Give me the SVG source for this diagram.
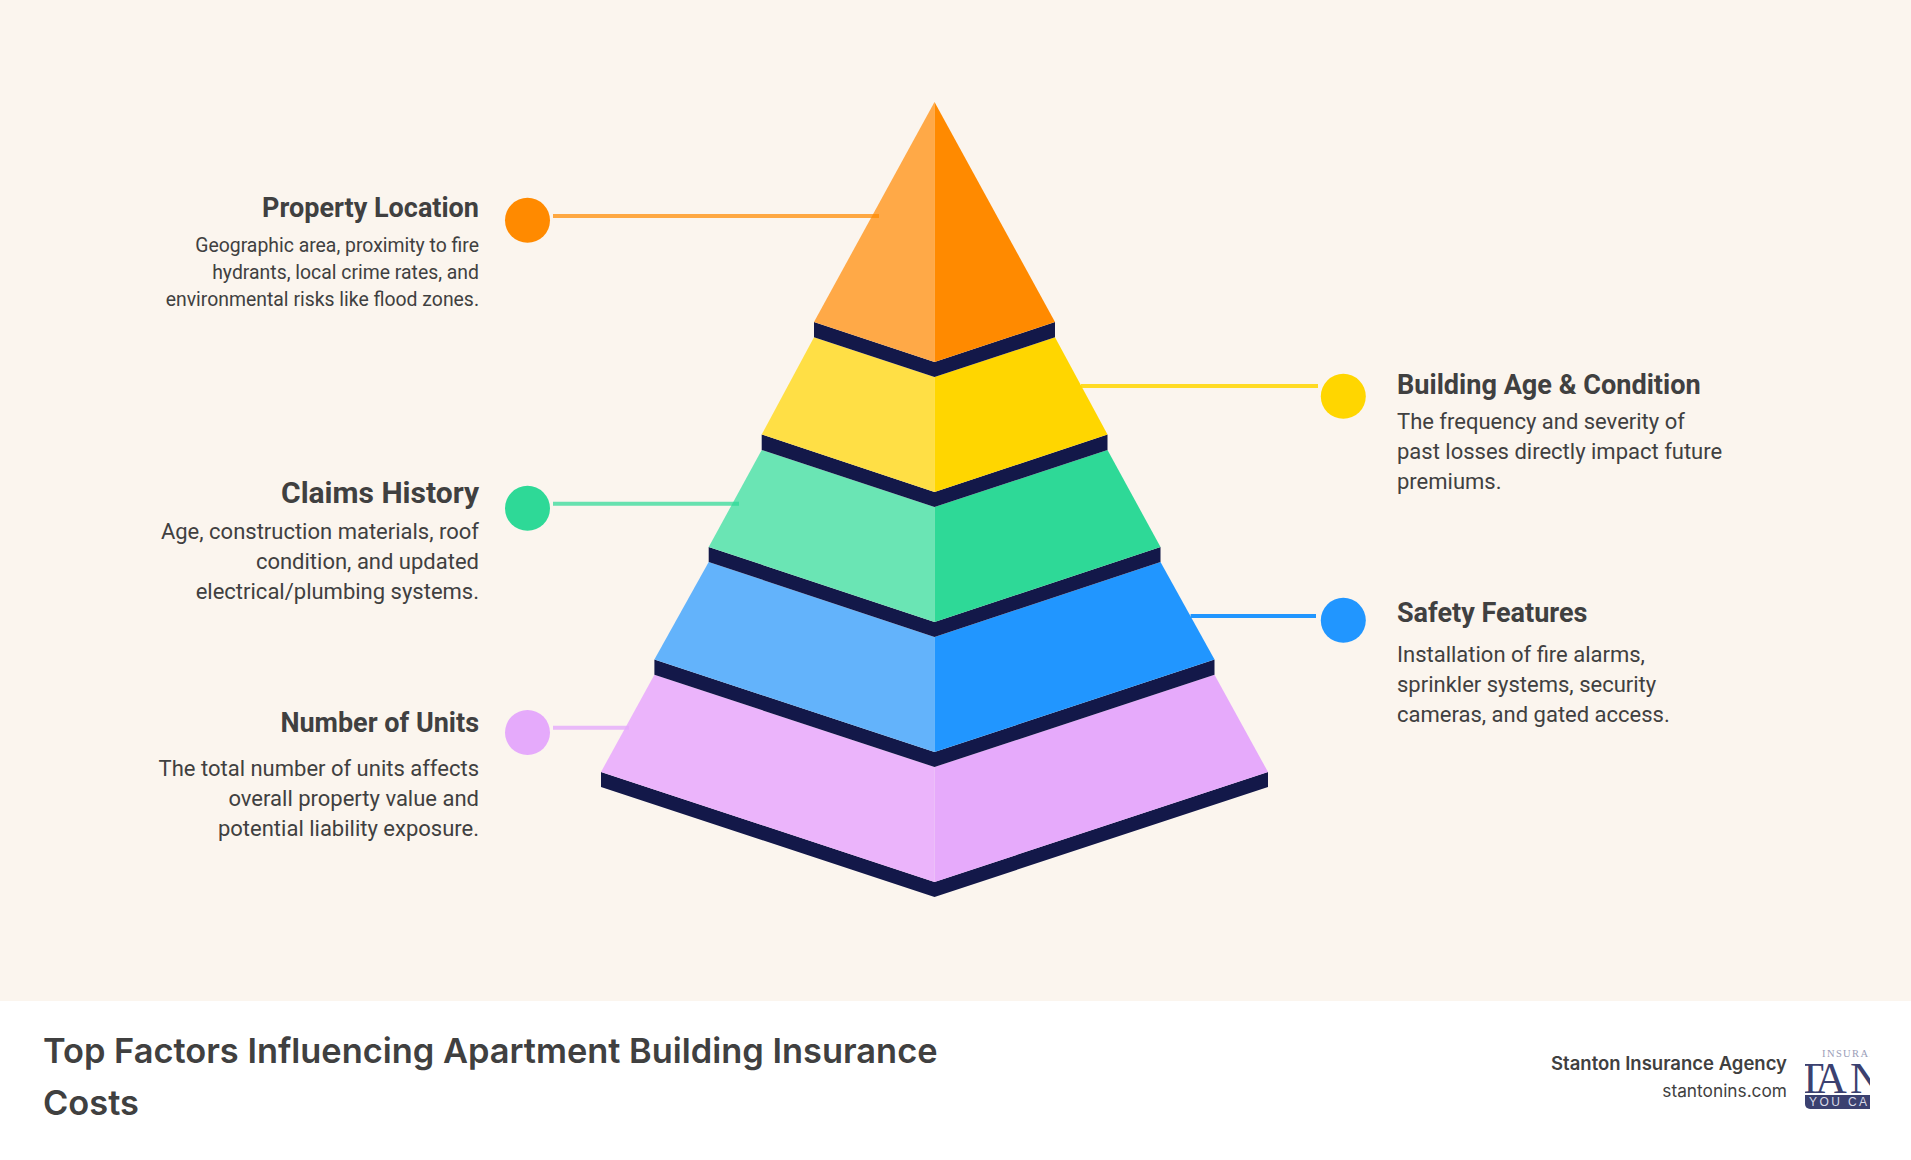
<svg xmlns="http://www.w3.org/2000/svg" width="1911" height="1160" viewBox="0 0 1911 1160">
<style>
.t{font-family:Roboto,sans-serif;font-weight:700;fill:#404040}
.d{font-family:Roboto,sans-serif;font-weight:400;fill:#404040}
.e{text-anchor:end}
.dk{fill:#131849}
.ln{stroke-width:4;fill:none}
</style>
<defs><clipPath id="lc"><path d="M1805 1050h65v59h-65z"/></clipPath></defs>
<rect width="1911" height="1001" fill="#fbf5ee"/>
<rect y="1001" width="1911" height="159" fill="#fff"/>
<g id="pyramid">
<g id="tier-5">
<path class="dk" d="M601 772V787L934.5 897L1268 787V772L934.5 882Z"/>
<path fill="#ebb4fb" d="M654.4 674.7L601 772L934.5 882V767Z"/>
<path fill="#e6aafb" d="M1214.5 674.7L1268 772L934.5 882V767Z"/>
</g>
<g id="tier-4">
<path class="dk" d="M654.4 659.5V674.7L934.5 767L1214.5 674.7V659.5L934.5 752Z"/>
<path fill="#63b3fb" d="M708.7 562L654.4 659.5L934.5 752V637Z"/>
<path fill="#2196ff" d="M1160.5 562L1214.5 659.5L934.5 752V637Z"/>
</g>
<g id="tier-3">
<path class="dk" d="M708.7 547V562L934.5 637L1160.5 562V547L934.5 622Z"/>
<path fill="#6ae5b4" d="M761.7 450L708.7 547L934.5 622V507Z"/>
<path fill="#2ed997" d="M1107.5 450L1160.5 547L934.5 622V507Z"/>
</g>
<g id="tier-2">
<path class="dk" d="M761.7 434.5V450L934.5 507L1107.5 450V434.5L934.5 492Z"/>
<path fill="#ffdf45" d="M814 337.3L761.7 434.5L934.5 492V377Z"/>
<path fill="#ffd600" d="M1055 337.3L1107.5 434.5L934.5 492V377Z"/>
</g>
<g id="tier-1">
<path class="dk" d="M814 322V337.3L934.5 377L1055 337.3V322L934.5 362Z"/>
<path fill="#ffa947" d="M934.5 102L814 322L934.5 362Z"/>
<path fill="#ff8a00" d="M934.5 102L1055 322L934.5 362Z"/>
</g>
</g>
<g id="connectors">
<path class="ln" stroke="#ff8a00" stroke-opacity=".72" d="M553 216H879"/>
<path class="ln" stroke="#ffd600" stroke-opacity=".85" d="M1081 386H1318"/>
<path class="ln" stroke="#2ed997" stroke-opacity=".72" d="M553 503.7H739"/>
<path class="ln" stroke="#2196ff" d="M1190.6 616H1316"/>
<path class="ln" stroke="#e5aafb" stroke-opacity=".8" d="M553 727.7H629"/>
</g>
<g id="n-location">
<circle cx="527.5" cy="220.3" r="22.5" fill="#ff8a00"/>
<text class="t e" x="479" y="216.5" font-size="27">Property Location</text>
<text class="d e" x="479" y="252" font-size="19.4">Geographic area, proximity to fire</text>
<text class="d e" x="479" y="279" font-size="19.4">hydrants, local crime rates, and</text>
<text class="d e" x="479" y="306" font-size="19.4">environmental risks like flood zones.</text>
</g>
<g id="n-claims">
<circle cx="527.5" cy="508.3" r="22.5" fill="#2ed997"/>
<text class="t e" x="479" y="503" font-size="30">Claims History</text>
<text class="d e" x="479" y="539" font-size="22">Age, construction materials, roof</text>
<text class="d e" x="479" y="569" font-size="22">condition, and updated</text>
<text class="d e" x="479" y="599" font-size="22">electrical/plumbing systems.</text>
</g>
<g id="n-units">
<circle cx="527.5" cy="732.5" r="22.5" fill="#e5aafb"/>
<text class="t e" x="479" y="732" font-size="27">Number of Units</text>
<text class="d e" x="479" y="776" font-size="22">The total number of units affects</text>
<text class="d e" x="479" y="806" font-size="22">overall property value and</text>
<text class="d e" x="479" y="836" font-size="22">potential liability exposure.</text>
</g>
<g id="n-age">
<circle cx="1343.3" cy="396.3" r="22.5" fill="#ffd600"/>
<text class="t" x="1397" y="394" font-size="27.1">Building Age &amp; Condition</text>
<text class="d" x="1397" y="429" font-size="22">The frequency and severity of</text>
<text class="d" x="1397" y="459" font-size="22">past losses directly impact future</text>
<text class="d" x="1397" y="489" font-size="22">premiums.</text>
</g>
<g id="n-safety">
<circle cx="1343.3" cy="620.3" r="22.5" fill="#2196ff"/>
<text class="t" x="1397" y="622" font-size="27">Safety Features</text>
<text class="d" x="1397" y="662" font-size="22">Installation of fire alarms,</text>
<text class="d" x="1397" y="692" font-size="22">sprinkler systems, security</text>
<text class="d" x="1397" y="722" font-size="22">cameras, and gated access.</text>
</g>
<g id="footer">
<text x="43" y="1063" font-family="Inter,sans-serif" font-weight="600" font-size="34.4" fill="#404040">Top Factors Influencing Apartment Building Insurance</text>
<text x="43" y="1115" font-family="Inter,sans-serif" font-weight="600" font-size="34.4" fill="#404040">Costs</text>
<text x="1787" y="1069.5" text-anchor="end" font-family="Inter,sans-serif" font-weight="600" font-size="18.5" fill="#404040">Stanton Insurance Agency</text>
<text x="1787" y="1097" text-anchor="end" font-family="Inter,sans-serif" font-weight="400" font-size="17.3" fill="#404040">stantonins.com</text>
</g>
<g id="logo" clip-path="url(#lc)">
<path fill="#3b4170" d="M1805 1095h65v14h-60a5 5 0 0 1-5-5z"/>
<text x="1822" y="1057" font-family="Liberation Serif,serif" font-size="10.5" letter-spacing="1.4" fill="#9a9db8">INSURANCE</text>
<text x="1797 1815 1850" y="1093" font-family="Liberation Serif,serif" font-size="44" fill="#3b4170">TAN</text>
<text x="1809" y="1105.7" font-family="Liberation Sans,sans-serif" font-size="12" letter-spacing="2.4" fill="#d8d9e6">YOU CAN</text>
</g>
</svg>
